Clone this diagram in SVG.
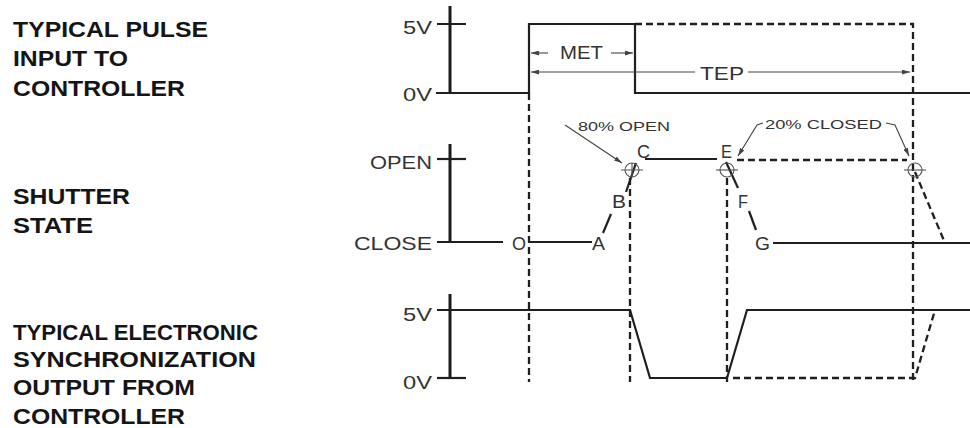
<svg xmlns="http://www.w3.org/2000/svg" width="970" height="428" viewBox="0 0 970 428">
<style>
.lbl{font-family:"Liberation Sans",Arial,sans-serif;font-weight:bold;font-size:22px;fill:#151515}
.cad{font-family:"Liberation Sans",Arial,sans-serif;font-size:18px;fill:#333}
.sm{font-family:"Liberation Sans",Arial,sans-serif;font-size:13px;fill:#333}
.ax{stroke:#1a1a1a;stroke-width:3;fill:none}
.sig{stroke:#1f1f1f;stroke-width:2.2;fill:none;stroke-linejoin:miter}
.dash{stroke:#1f1f1f;stroke-width:2.3;fill:none;stroke-dasharray:7 4}
.thin{stroke:#444;stroke-width:1.1;fill:none}
.tgt{stroke:#555;stroke-width:1.1;fill:none}
</style>
<defs>
<marker id="ah" viewBox="0 0 10 6" refX="10" refY="3" markerWidth="8" markerHeight="5" markerUnits="userSpaceOnUse" orient="auto">
<path d="M0,0 L10,3 L0,6 Z" fill="#444"/>
</marker>
</defs>
<rect width="970" height="428" fill="#fff"/>

<g id="label-pulse">
<text class="lbl" x="13" y="37" textLength="195" lengthAdjust="spacingAndGlyphs">TYPICAL PULSE</text>
<text class="lbl" x="13" y="66" textLength="115" lengthAdjust="spacingAndGlyphs">INPUT TO</text>
<text class="lbl" x="13" y="96" textLength="172" lengthAdjust="spacingAndGlyphs">CONTROLLER</text>
</g>
<g id="label-shutter">
<text class="lbl" x="13" y="204" textLength="117" lengthAdjust="spacingAndGlyphs">SHUTTER</text>
<text class="lbl" x="13" y="233" textLength="80" lengthAdjust="spacingAndGlyphs">STATE</text>
</g>
<g id="label-sync">
<text class="lbl" x="13" y="340" textLength="245" lengthAdjust="spacingAndGlyphs">TYPICAL ELECTRONIC</text>
<text class="lbl" x="13" y="367" textLength="243" lengthAdjust="spacingAndGlyphs">SYNCHRONIZATION</text>
<text class="lbl" x="13" y="395" textLength="182" lengthAdjust="spacingAndGlyphs">OUTPUT FROM</text>
<text class="lbl" x="13" y="424" textLength="172" lengthAdjust="spacingAndGlyphs">CONTROLLER</text>
</g>

<g id="axis-pulse">
<path class="ax" d="M450,6 V93"/>
<path class="sig" d="M437,24 H466 M436,93 H450"/>
<text class="cad" x="403" y="34" textLength="29" lengthAdjust="spacingAndGlyphs">5V</text>
<text class="cad" x="403" y="101" textLength="29" lengthAdjust="spacingAndGlyphs">0V</text>
</g>
<g id="axis-shutter">
<path class="ax" d="M450,144 V243"/>
<path class="sig" d="M437,159 H466"/>
<text class="cad" x="370" y="169" textLength="62" lengthAdjust="spacingAndGlyphs">OPEN</text>
<text class="cad" x="354" y="250" textLength="78" lengthAdjust="spacingAndGlyphs">CLOSE</text>
</g>
<g id="axis-sync">
<path class="ax" d="M450,294 V378"/>
<path class="sig" d="M437,378 H466"/>
<text class="cad" x="403" y="321" textLength="29" lengthAdjust="spacingAndGlyphs">5V</text>
<text class="cad" x="403" y="389" textLength="29" lengthAdjust="spacingAndGlyphs">0V</text>
</g>

<g id="signal-pulse">
<path class="sig" d="M450,93 H529 V24 H635 V93 H970"/>
<path class="dash" d="M635,24 H913 V380"/>
</g>

<g id="signal-shutter">
<path class="sig" stroke-width="2.6" d="M437,242 H503"/>
<path class="sig" stroke-width="2.6" d="M529,242 H592"/>
<path class="sig" d="M603,233 L611,214"/>
<path class="sig" d="M626,192 L636,163"/>
<path class="sig" d="M645,159 H717"/>
<path class="dash" d="M737,160 H907"/>
<path class="sig" d="M726,162 L738,188"/>
<path class="sig" d="M749,211 L756,230"/>
<path class="sig" stroke-width="2.6" d="M773,243 H970"/>
<path class="dash" d="M915,172 L945,243"/>
<text class="cad" x="512" y="250" textLength="14" lengthAdjust="spacingAndGlyphs">O</text>
<text class="cad" x="592" y="250" textLength="13" lengthAdjust="spacingAndGlyphs">A</text>
<text class="cad" x="612" y="208" textLength="14" lengthAdjust="spacingAndGlyphs">B</text>
<text class="cad" x="637" y="158" textLength="13" lengthAdjust="spacingAndGlyphs">C</text>
<text class="cad" x="721" y="158" textLength="11" lengthAdjust="spacingAndGlyphs">E</text>
<text class="cad" x="738" y="208" textLength="10" lengthAdjust="spacingAndGlyphs">F</text>
<text class="cad" x="755" y="250" textLength="15" lengthAdjust="spacingAndGlyphs">G</text>
</g>

<g id="targets">
<g id="target-c"><circle class="tgt" cx="632" cy="170" r="7"/><path class="tgt" d="M621,170 H643 M632,163 V177"/></g>
<g id="target-e"><circle class="tgt" cx="727" cy="170" r="7"/><path class="tgt" d="M716,170 H738"/></g>
<g id="target-end"><circle class="tgt" cx="915" cy="170" r="7"/><path class="tgt" d="M904,170 H926"/></g>
</g>

<g id="signal-sync">
<path class="sig" d="M437,310 H630 L650,378 H727 L747,310 H970"/>
<path class="dash" d="M733,378 H915 L935,310"/>
</g>

<g id="markers">
<path class="dash" d="M529,93 V382"/>
<path class="dash" d="M630,178 V382"/>
<path class="dash" d="M727,178 V382"/>
</g>

<g id="connectors">
<path class="thin" d="M548,53 H531" marker-end="url(#ah)"/>
<path class="thin" d="M611,53 H633" marker-end="url(#ah)"/>
<path class="thin" d="M695,72 H531" marker-end="url(#ah)"/>
<path class="thin" d="M748,72 H910" marker-end="url(#ah)"/>
<path class="thin" d="M565,125 L622,163" marker-end="url(#ah)"/>
<path class="thin" d="M763,123 L757,125 L738,156" marker-end="url(#ah)"/>
<path class="thin" d="M886,123 L895,125 L909,156" marker-end="url(#ah)"/>
</g>

<g id="dim-labels">
<text class="cad" x="560" y="59" textLength="43" lengthAdjust="spacingAndGlyphs">MET</text>
<text class="cad" x="700" y="80" textLength="44" lengthAdjust="spacingAndGlyphs">TEP</text>
<text class="sm" x="578" y="131" textLength="92" lengthAdjust="spacingAndGlyphs">80% OPEN</text>
<text class="sm" x="765" y="129" textLength="117" lengthAdjust="spacingAndGlyphs">20% CLOSED</text>
</g>
</svg>
